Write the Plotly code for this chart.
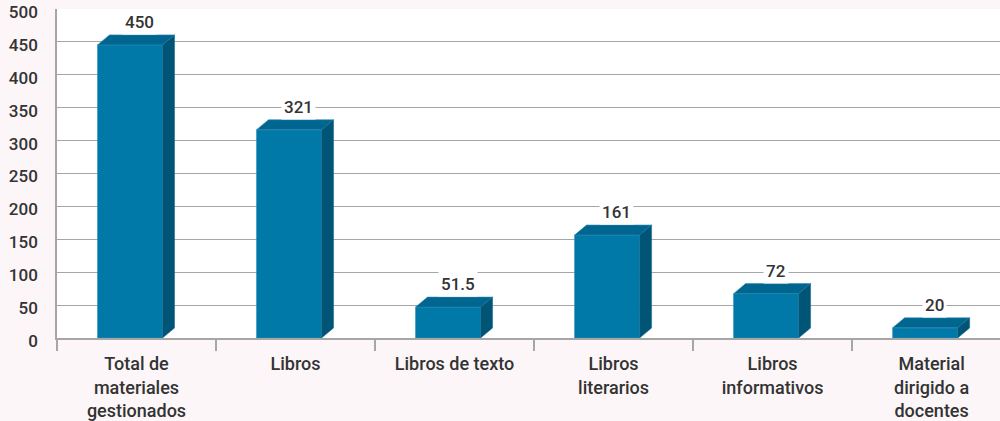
import plotly.graph_objects as go

# datos
categorias = ["Total de<br>materiales<br>gestionados", "Libros", "Libros de texto",
              "Libros<br>literarios", "Libros<br>informativos", "Material<br>dirigido a<br>docentes"]
valores = [450, 321, 51.5, 161, 72, 20]
etiquetas = ["450", "321", "51.5", "161", "72", "20"]

# estilo 3D (en px)
px_x = 159.0          # px por categoría
px_y = 328.5 / 500    # px por unidad
frente_izq, frente_der = -39, 26
prof_x, prof_y = 12, 10
baja_frente = 3       # el frente queda un poco por debajo del valor

c_frente = "#0078a8"
c_arriba = "#00668f"
c_lado = "#005577"

fig = go.Figure()

x0 = frente_izq / px_x
ancho = (frente_der - frente_izq) / px_x
dx = prof_x / px_x
dy = prof_y / px_y
bajo = baja_frente / px_y

alto_frente = [v - bajo for v in valores]

fig.add_trace(go.Bar(x=list(range(len(valores))), y=alto_frente, base=0,
                     width=ancho, offset=x0, marker_color=c_frente,
                     marker_line=dict(color="#2f8fb8", width=0.6), hoverinfo="skip"))

arr_x, arr_y, lad_x, lad_y = [], [], [], []
for i, h in enumerate(alto_frente):
    a = i + x0
    b = a + ancho
    arr_x += [a, b, b + dx, a + dx, a, None]
    arr_y += [h, h, h + dy, h + dy, h, None]
    lad_x += [b, b + dx, b + dx, b, b, None]
    lad_y += [0, dy, h + dy, h, 0, None]

fig.add_trace(go.Scatter(x=arr_x, y=arr_y, fill="toself", fillcolor=c_arriba, mode="lines",
                         line=dict(color="#2a8ab3", width=0.6), hoverinfo="skip"))
fig.add_trace(go.Scatter(x=lad_x, y=lad_y, fill="toself", fillcolor=c_lado, mode="lines",
                         line=dict(color="#1d6f93", width=0.6), hoverinfo="skip"))

for i, v in enumerate(valores):
    fig.add_annotation(x=i + 0.02, y=alto_frente[i] + dy, text=etiquetas[i], showarrow=False,
                       yanchor="middle", yshift=13, bgcolor="white", borderpad=2,
                       font=dict(size=17, color="#333333", family="Roboto", weight=500))

fig.update_layout(
    width=1000, height=421,
    margin=dict(l=57, r=0, t=9, b=83),
    paper_bgcolor="#fcf6f8", plot_bgcolor="white",
    showlegend=False,
    font=dict(family="Roboto", color="#333333"),
    xaxis=dict(range=[-0.5, 5.43], tickvals=list(range(len(categorias))), ticktext=categorias,
               ticks="", showgrid=False, zeroline=False, showline=True, linecolor="#a6a6a6",
               linewidth=1.5, tickfont=dict(size=18, family="Roboto", weight=500, color="#333333"),
               ticklabelstandoff=9,
               minor=dict(tickvals=[k - 0.5 for k in range(len(categorias) + 1)], ticks="outside",
                          ticklen=11, tickcolor="#a6a6a6", tickwidth=1.5, showgrid=False)),
    yaxis=dict(range=[0, 500], dtick=50, showgrid=True, gridcolor="#a6a6a6", gridwidth=1,
               zeroline=False, showline=True, linecolor="#a6a6a6", linewidth=1.5,
               tickfont=dict(size=17, family="Roboto", weight=500, color="#333333"),
               ticklabelstandoff=14, ticklabelshift=3),
)

fig.write_html("out.html", config={"displayModeBar": False},
               post_script="document.body.style.margin='0';")
